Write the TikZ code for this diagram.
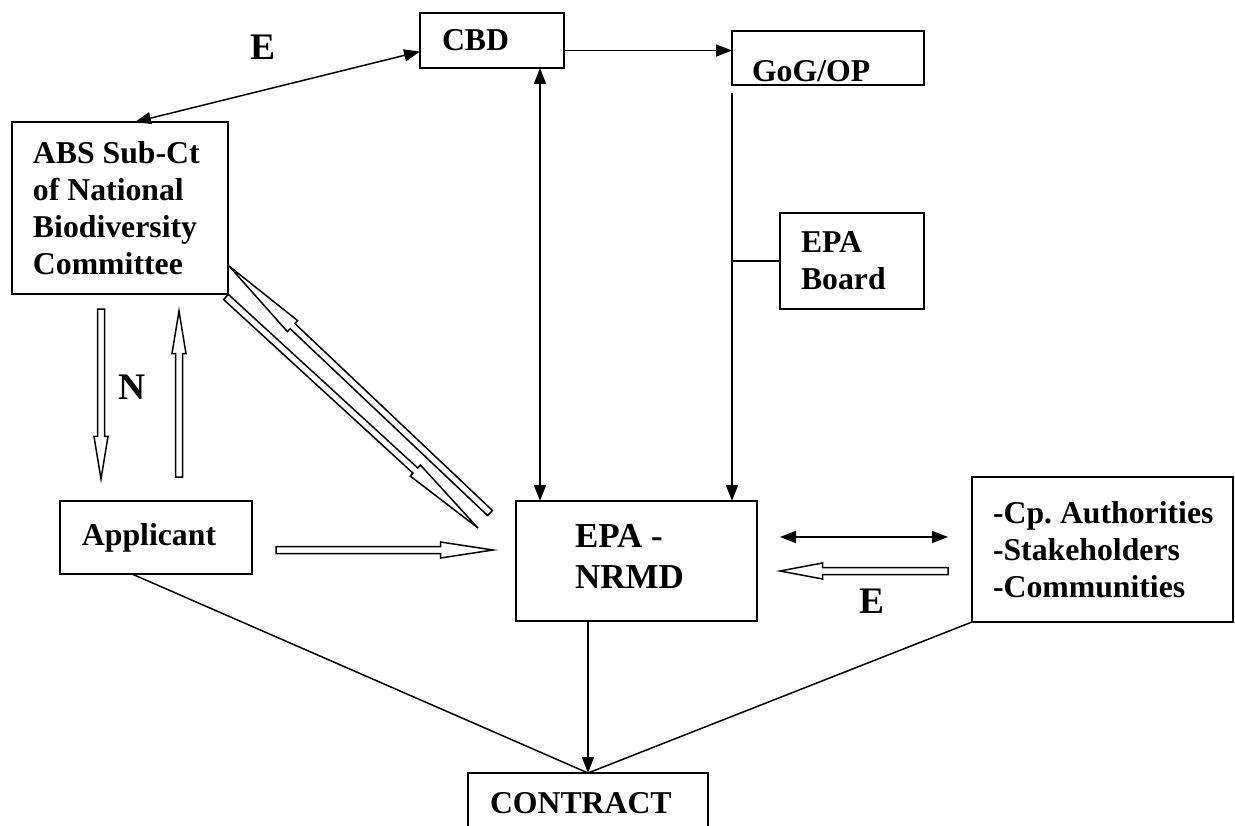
\documentclass[tikz,border=0pt]{standalone}
\usepackage{fontspec}
\setmainfont{Liberation Serif}
\usetikzlibrary{arrows.meta,calc,positioning}

\newcommand{\hollowarrow}[4]{%
  \coordinate (hb) at ($(#2)!#3!(#1)$);
  \draw[hollow] ($(#1)!1.4pt!90:(#2)$) -- ($(hb)!1.4pt!90:(#2)$)
    -- ($(hb)!#4!90:(#2)$) -- (#2) -- ($(hb)!#4!-90:(#2)$)
    -- ($(hb)!1.4pt!-90:(#2)$) -- ($(#1)!1.4pt!-90:(#2)$) -- cycle;
}

\begin{document}
\begin{tikzpicture}
    [x=0.4pt, y=-0.4pt, line width=0.6pt,
     >={Triangle[length=6.4pt,width=4.8pt]},
     box/.style={draw, rectangle, outer sep=0pt, inner ysep=0pt, align=flush left,
                 font=\bfseries\fontsize{12.7}{14.8}\selectfont},
     hollow/.style={draw, fill=white},
     lab/.style={inner sep=0pt, font=\bfseries\fontsize{15}{18}\selectfont}]
    \useasboundingbox (0,0) rectangle (1235,826);
    \node (CBD) at (492,40.5) [box, minimum width=57.6pt, minimum height=22pt,
        inner xsep=8.8pt, text width=40pt] {CBD};
    \node (GoG) at (828,58) [box, minimum width=76.8pt, minimum height=21.6pt,
        inner xsep=8pt, text width=60.8pt, text height=19.2pt, text depth=0pt] {GoG/OP};
    \node (ABS) at (120,208) [box, minimum width=86.4pt, minimum height=68.8pt,
        inner xsep=8.4pt, text width=69.6pt] {ABS Sub-Ct\\of National\\Biodiversity\\Committee};
    \node (Board) at (852,261) [box, minimum width=57.6pt, minimum height=38.4pt,
        inner xsep=8.4pt, text width=40.8pt] {EPA\\Board};
    \node (App) at (156,537.5) [box, minimum width=76.8pt, minimum height=29.2pt,
        inner xsep=8.8pt, text width=59.2pt] {Applicant};
    \node (NRMD) at (636.5,561) [box, minimum width=96.4pt, minimum height=48pt,
        inner xsep=23.6pt, text width=49.2pt, text height=9.3pt, text depth=20.5pt,
        font=\bfseries\fontsize{14}{16.4}\selectfont] {EPA -\\NRMD};
    \node (Comm) at (1102.5,549.5) [box, minimum width=104.4pt, minimum height=58pt,
        inner xsep=8.4pt, text width=87.6pt] {\mbox{-Cp.\ Authorities}\\-Stakeholders\\-Communities};
    \node (Contract) at (588,803.5) [box, minimum width=96pt, minimum height=24.4pt,
        inner xsep=8.8pt, text width=78.4pt] {CONTRACT};

    \node (Etop) at (263,47.5) [lab] {E};
    \node (N) at (132,387.5) [lab] {N};
    \node (Ebot) at (872,601.5) [lab] {E};

    \draw [<->] ($(ABS.north)+(15,0)$) -- ($(CBD.west)+(0,11)$);
    \draw [->] ($(CBD.east)+(0,10)$) coordinate (cg) -- (cg -| GoG.west);
    \draw [<->] ($(CBD.south)+(48,0)$) coordinate (cn) -- (cn |- NRMD.north);
    \draw [->] ($(GoG.south west)+(0,8)$) -- (GoG.west |- NRMD.north);
    \draw (Board.west) -- (Board.west -| GoG.west);
    \draw [<->, shorten >=9.6pt] ($(NRMD.east)+(23,-24)$) coordinate (nc) -- (nc -| Comm.west);
    \draw [->] (Contract.north |- NRMD.south) -- (Contract.north);
    \draw ($(App.south)+(-24,0)$) -- (Contract.north);
    \draw (Comm.south west) -- (Contract.north);

    \coordinate (n1) at ($(ABS.south)+(-19,15)$);
    \coordinate (n2) at ($(App.north)+(-55,-22)$);
    \coordinate (n3) at ($(App.north)+(23,-24)$);
    \coordinate (n4) at ($(ABS.south)+(59,17)$);
    \coordinate (d1) at ($(NRMD.north west)+(-26,12)$);
    \coordinate (d2) at ($(ABS.south east)+(1,-28)$);
    \coordinate (d3) at ($(ABS.south east)+(-2,3)$);
    \coordinate (d4) at ($(NRMD.north west)+(-38,27)$);
    \coordinate (a1) at ($(App.east)+(24,12.5)$);
    \coordinate (a2) at ($(NRMD.west)+(-23,-11)$);
    \coordinate (c1) at ($(Comm.west)+(-24,21.5)$);
    \coordinate (c2) at ($(NRMD.east)+(23,10)$);
    \hollowarrow{n1}{n2}{17pt}{2.8pt}
    \hollowarrow{n3}{n4}{17pt}{2.8pt}
    \hollowarrow{d1}{d2}{35pt}{3pt}
    \hollowarrow{d3}{d4}{34pt}{3pt}
    \hollowarrow{a1}{a2}{21pt}{3.2pt}
    \hollowarrow{c1}{c2}{17pt}{3.2pt}
\end{tikzpicture}
\end{document}
